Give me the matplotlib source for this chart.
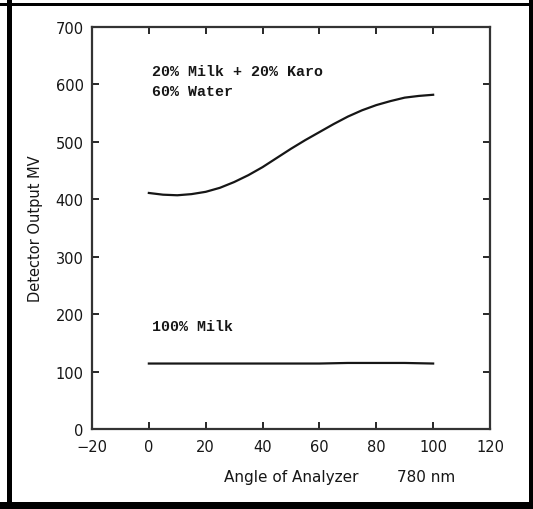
import matplotlib
matplotlib.use("Agg")
import matplotlib.pyplot as plt
from matplotlib.patches import Rectangle

# analyzer angle (deg) and detector output (mV)
angle = [0, 5, 10, 15, 20, 25, 30, 35, 40, 45, 50, 55, 60, 65, 70, 75, 80, 85, 90, 95, 100]
mix_output = [411, 408, 407, 409, 413, 420, 430, 442, 456, 472, 488, 503, 517, 531, 544, 555, 564, 571, 577, 580, 582]

milk_angle = [0, 10, 20, 30, 40, 50, 60, 70, 80, 90, 100]
milk_output = [114, 114, 114, 114, 114, 114, 114, 115, 115, 115, 114]

x_ticks = [-20, 0, 20, 40, 60, 80, 100, 120]
y_ticks = [0, 100, 200, 300, 400, 500, 600, 700]

INK = "#161616"
W, H = 533, 510


def main() -> None:
    fig = plt.figure(figsize=(W / 100, H / 100), dpi=100)
    ax = fig.add_axes([92 / W, 1 - 430 / H, (490 - 92) / W, (430 - 28) / H])

    ax.plot(angle, mix_output, color=INK, lw=1.6)
    ax.plot(milk_angle, milk_output, color=INK, lw=1.6)

    ax.set_xlim(-20, 120)
    ax.set_ylim(0, 700)
    ax.set_xticks(x_ticks)
    ax.set_yticks(y_ticks)
    ax.tick_params(direction="in", length=5, width=1.3, color=INK, top=True, right=True,
                   labelsize=10.5, labelcolor=INK)
    ax.tick_params(axis="x", pad=7)
    ax.tick_params(axis="y", pad=6)
    for sp in ax.spines.values():
        sp.set_color("#333333")
        sp.set_linewidth(1.6)

    ax.set_ylabel("Detector Output MV", fontsize=10.5, color=INK, labelpad=9)

    mono = dict(family="Liberation Mono", fontweight="bold", fontsize=10.8, color=INK,
                va="center", ha="left")
    ax.text(1.0, 624, "20% Milk + 20% Karo", **mono)
    ax.text(1.0, 589, "60% Water", **mono)
    ax.text(1.0, 180, "100% Milk", **mono)

    fig.text(224 / W, 1 - 478 / H, "Angle of Analyzer", fontsize=11, color=INK,
             ha="left", va="center")
    fig.text(397 / W, 1 - 478 / H, "780 nm", fontsize=11, color=INK,
             ha="left", va="center")

    # scanned page border
    for x0, y0, w, h in [(7, 0, 5, H), (0, H - 7, W, 3), (0, 0, W, 7), (529, 0, 4, H)]:
        fig.add_artist(Rectangle((x0 / W, y0 / H), w / W, h / H, transform=fig.transFigure,
                                 facecolor="black", edgecolor="none"))

    fig.savefig("out.png", dpi=100, facecolor="white")
    plt.close(fig)


if __name__ == "__main__":
    main()
